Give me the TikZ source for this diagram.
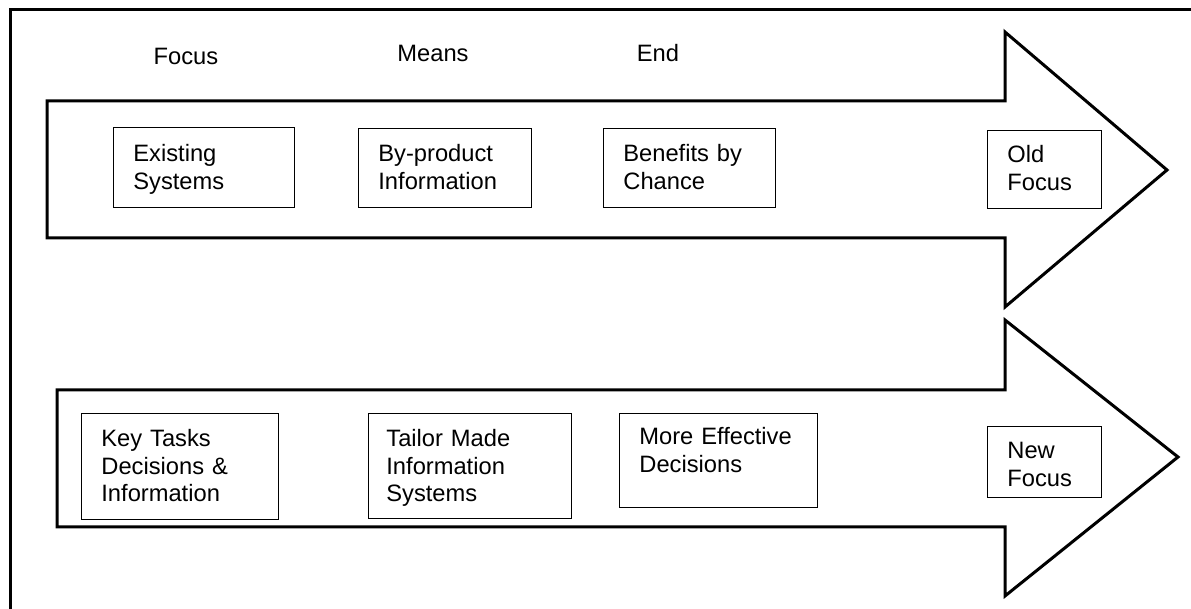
\documentclass[tikz,border=0pt]{standalone}
\usepackage{fontspec}
\setmainfont{Liberation Sans}
\tikzset{
  frm/.style={line width=1.5pt},
  bigarrow/.style={line width=1.5pt, line join=miter},
  box/.style 2 args={draw, line width=0.65pt, inner sep=0pt, anchor=north west,
                     minimum width=#1*0.5pt, minimum height=#2*0.5pt},
  txt/.style={anchor=base west, align=left, inner sep=0pt, text width=80pt,
              font=\fontsize{11.85}{13.75}\selectfont},
  head/.style={anchor=base, inner sep=0pt, font=\fontsize{11.85}{13.75}\selectfont}
}

\begin{document}
\begin{tikzpicture}[x=0.5pt, y=-0.5pt]
      \useasboundingbox (0,0) rectangle (1191,609);
      % frame
      \draw[frm] (10,609) -- (10,10) -- (1191,10);
      % arrows
      \draw[bigarrow] (47,101) -- (1005,101) -- (1005,32) -- (1167,170) -- (1005,307) -- (1005,238) -- (47,238) -- cycle;
      \draw[bigarrow] (57,390) -- (1005,390) -- (1005,320) -- (1178,457) -- (1005,596) -- (1005,527) -- (57,527) -- cycle;
      % headings
      \node[head] (focus) at (186,65) {Focus};
      \node[head] (means) at (433,62) {Means};
      \node[head] (end) at (658,62) {End};
      % old focus
      \node[box={181}{80}] (ex) at (113,127) {};
      \node[box={173}{79}] (bp) at (358,128) {};
      \node[box={172}{79}] (bc) at (603,128) {};
      \node[box={114}{78}] (of) at (987,130) {};
      \node[txt] (ex-t) at ([shift={(20,35)}]ex.north west) {Existing\\Systems};
      \node[txt] (bp-t) at ([shift={(20,34)}]bp.north west) {By-product\\Information};
      \node[txt] (bc-t) at ([shift={(20,34)}]bc.north west) {Benefits by\\Chance};
      \node[txt] (of-t) at ([shift={(20,33)}]of.north west) {Old\\Focus};
      % new focus
      \node[box={197}{106}] (kt) at (81,413) {};
      \node[box={203}{105}] (tm) at (368,413) {};
      \node[box={198}{94}] (me) at (619,413) {};
      \node[box={114}{71}] (nf) at (987,426) {};
      \node[txt] (kt-t) at ([shift={(20,34)}]kt.north west) {Key Tasks\\Decisions \&\\Information};
      \node[txt] (tm-t) at ([shift={(18,34)}]tm.north west) {Tailor Made\\Information\\Systems};
      \node[txt] (me-t) at ([shift={(20,32)}]me.north west) {More Effective\\Decisions};
      \node[txt] (nf-t) at ([shift={(20,33)}]nf.north west) {New\\Focus};
\end{tikzpicture}
\end{document}
